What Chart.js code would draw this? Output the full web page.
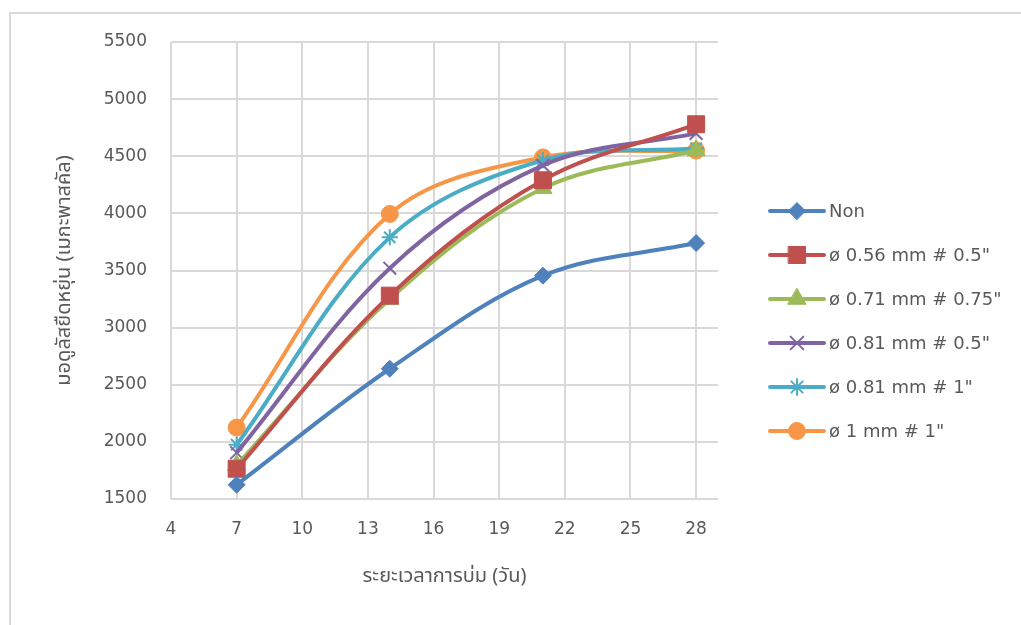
<!DOCTYPE html>
<html>
<head>
<meta charset="utf-8">
<script src="https://cdn.jsdelivr.net/npm/chart.js@4/dist/chart.umd.min.js"></script>
<style>
  html, body { margin: 0; padding: 0; background: #fff; }
  #wrap { position: relative; width: 1021px; height: 625px; overflow: hidden; }
  /* cadre gris du graphique (il depasse a droite et en bas) */
  #frame { position: absolute; left: 9px; top: 12px; width: 1100px; height: 700px;
           border-left: 2px solid #d9d9d9; border-top: 2px solid #d9d9d9; }
  #myChart { position: absolute; left: 0; top: 0; }
</style>
</head>
<body>
<div id="wrap">
  <div id="frame"></div>
  <canvas id="myChart" width="1021" height="625"></canvas>
</div>
<script>
// Les donnees
const days = [7, 14, 21, 28]
const xTicks = [4, 7, 10, 13, 16, 19, 22, 25, 28]
const seriesNames = ["Non", "ø 0.56 mm # 0.5\"", "ø 0.71 mm # 0.75\"", "ø 0.81 mm # 0.5\"", "ø 0.81 mm # 1\"", "ø 1 mm # 1\""]
const nonValues = [1625, 2640, 3455, 3740]
const d056Values = [1765, 3280, 4290, 4780]
const d071Values = [1795, 3250, 4220, 4550]
const d081hValues = [1905, 3520, 4420, 4700]
const d081Values = [1975, 3790, 4465, 4570]
const d1Values = [2125, 3995, 4490, 4550]
const yTitle = "มอดูลัสยืดหยุ่น (เมกะพาสคัล)"
const xTitle = "ระยะเวลาการบ่ม (วัน)"

const allValues = [nonValues, d056Values, d071Values, d081hValues, d081Values, d1Values]
const colors = ["#4F81BD", "#C0504D", "#9BBB59", "#8064A2", "#4BACC6", "#F79646"]
const styles = ["rectRot", "rect", "triangle", "crossRot", "star", "circle"]
const radii = [8.5, 12, 10.5, 9, 8, 8.5]

const gray = "#595959"
const tickFont = { family: "'DejaVu Sans', sans-serif", size: 17 }
const thaiFont = { family: "'Noto Sans Thai', 'Noto Sans', 'DejaVu Sans', sans-serif", size: 20 }

const datasets = allValues.map((vals, i) => ({
    label: seriesNames[i],
    data: days.map((d, k) => ({ x: d, y: vals[k] })),
    borderColor: colors[i],
    backgroundColor: colors[i],
    borderWidth: 4,
    pointStyle: styles[i],
    pointRadius: radii[i],
    pointHoverRadius: radii[i],
    pointBackgroundColor: colors[i],
    pointBorderColor: colors[i],
    pointBorderWidth: (styles[i] === "crossRot" || styles[i] === "star") ? 2 : 1,
    tension: 0.35,
    fill: false
}))

// Legende maison : trait + marqueur comme dans Excel
const lineLegend = {
    id: "lineLegend",
    afterDraw(chart) {
        const ctx = chart.ctx
        const x0 = 770, x1 = 824, top = 211, step = 44
        chart.data.datasets.forEach((ds, i) => {
            const y = top + i * step
            ctx.save()
            ctx.strokeStyle = ds.borderColor
            ctx.lineWidth = 4
            ctx.lineCap = "round"
            ctx.beginPath()
            ctx.moveTo(x0, y)
            ctx.lineTo(x1, y)
            ctx.stroke()
            ctx.fillStyle = ds.pointBackgroundColor
            ctx.strokeStyle = ds.pointBorderColor
            ctx.lineWidth = ds.pointBorderWidth
            Chart.helpers.drawPoint(ctx, { pointStyle: ds.pointStyle, radius: ds.pointRadius, rotation: 0, borderWidth: ds.pointBorderWidth }, (x0 + x1) / 2, y)
            ctx.fillStyle = gray
            ctx.font = "18px 'DejaVu Sans', sans-serif"
            ctx.textBaseline = "middle"
            ctx.textAlign = "left"
            ctx.fillText(ds.label, 829, y + 1)
            ctx.restore()
        })
    }
}

new Chart(document.getElementById("myChart"), {
    type: "line",
    data: { datasets: datasets },
    options: {
        responsive: false,
        animation: false,
        layout: { padding: { top: 42, right: 303, left: 0, bottom: 0 } },
        plugins: {
            legend: { display: false },
            tooltip: { enabled: false }
        },
        scales: {
            x: {
                type: "linear",
                min: 4,
                max: 29,
                afterBuildTicks: axis => { axis.ticks = xTicks.map(v => ({ value: v })) },
                afterFit: axis => { axis.height = 126 },
                grid: { color: "#d9d9d9", lineWidth: 2, drawTicks: false },
                border: { display: false },
                ticks: { color: gray, font: tickFont, padding: 20, maxRotation: 0, autoSkip: false, callback: v => String(v) },
                title: { display: true, text: xTitle, color: gray, font: thaiFont, padding: { top: 0, bottom: 35 } }
            },
            y: {
                min: 1500,
                max: 5500,
                afterFit: axis => { axis.width = 171 },
                grid: { color: "#d9d9d9", lineWidth: 2, drawTicks: false },
                border: { display: false },
                ticks: { stepSize: 500, color: gray, font: tickFont, padding: 24, callback: v => String(v) },
                title: { display: true, text: yTitle, color: gray, font: thaiFont, padding: { top: 54, bottom: 0 } }
            }
        }
    },
    plugins: [lineLegend]
})
</script>
</body>
</html>
